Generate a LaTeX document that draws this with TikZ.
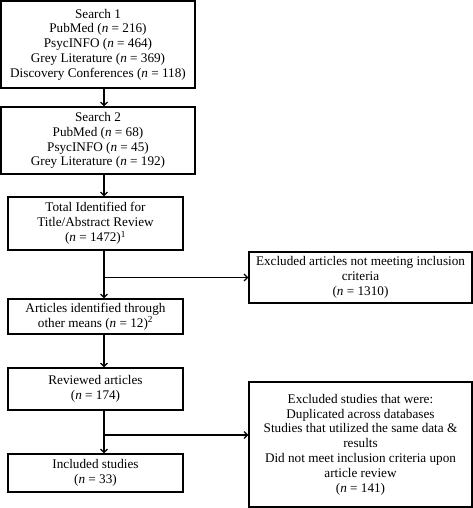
\documentclass[tikz,border=0pt]{standalone}
\usepackage{fontspec}
\setmainfont{Liberation Serif}
\usetikzlibrary{arrows.meta}
\begin{document}
\begin{tikzpicture}[x=1pt,y=1pt,
  box/.style={draw=black, line width=1.3pt, align=center, inner sep=0pt,
    font=\fontsize{13.2}{14.8}\selectfont},
  arr/.style={line width=1.3pt, -{Straight Barb[length=3.5pt,width=7pt,line width=1.2pt]}},
  ln/.style={line width=1.3pt}]
\useasboundingbox (0,0) rectangle (473,-508);
\node[box, minimum width=194pt, minimum height=87pt] (b1) at (98,-44.5)
  {Search 1\\PubMed (\textit{n} = 216)\\PsycINFO (\textit{n} = 464)\\Grey Literature (\textit{n} = 369)\\Discovery Conferences (\textit{n} = 118)};
\node[box, minimum width=194pt, minimum height=67pt] (b2) at (98,-140.5)
  {Search 2\\PubMed (\textit{n} = 68)\\PsycINFO (\textit{n} = 45)\\Grey Literature (\textit{n} = 192)};
\node[box, minimum width=175pt, minimum height=53pt] (b3) at (95.5,-223.5)
  {Total Identified for\\Title/Abstract Review\\(\textit{n} = 1472)\textsuperscript{1}};
\node[box, minimum width=175pt, minimum height=35pt] (b4) at (95.5,-316.5)
  {Articles identified through\\other means (\textit{n} = 12)\textsuperscript{2}};
\node[box, minimum width=175pt, minimum height=42pt] (b5) at (95.5,-389)
  {Reviewed articles\\(\textit{n} = 174)};
\node[box, minimum width=175pt, minimum height=38pt] (b6) at (95.5,-473)
  {Included studies\\(\textit{n} = 33)};
\node[box, minimum width=223pt, minimum height=51pt] (e1) at (360.5,-277.5)
  {Excluded articles not meeting inclusion\\criteria\\(\textit{n} = 1310)};
\node[box, minimum width=223pt, minimum height=125pt] (e2) at (360.5,-444.5)
  {Excluded studies that were:\\Duplicated across databases\\Studies that utilized the same data \&\\results\\Did not meet inclusion criteria upon\\article review\\(\textit{n} = 141)};
\coordinate (ax) at (104,0);
\coordinate (j1) at (104,-277.5);
\coordinate (j2) at (104,-435);
\draw[arr] (b1.south -| ax) -- (b2.north -| ax);
\draw[arr] (b2.south -| ax) -- (b3.north -| ax);
\draw[arr] (b3.south -| ax) -- (b4.north -| ax);
\draw[arr] (j1) -- (e1.west);
\draw[arr] (b4.south -| ax) -- (b5.north -| ax);
\draw[arr] (b5.south -| ax) -- (b6.north -| ax);
\draw[arr] (j2) -- (j2 -| e2.west);
\end{tikzpicture}
\end{document}
